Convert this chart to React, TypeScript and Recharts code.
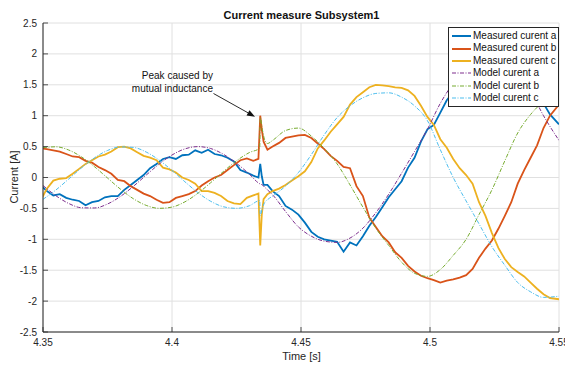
import React from 'react';
import { LineChart, Line, XAxis, YAxis, CartesianGrid, Legend } from 'recharts';

const FONT = '"Liberation Sans", Arial, Helvetica, sans-serif';
const AXIS = '#262626';

const xTicks = [4.35, 4.4, 4.45, 4.5, 4.55];
const xTickLabels = ['4.35', '4.4', '4.45', '4.5', '4.55'];
const yTicks = [-2.5, -2, -1.5, -1, -0.5, 0, 0.5, 1, 1.5, 2, 2.5];
const yTickLabels = ['-2.5', '-2', '-1.5', '-1', '-0.5', '0', '0.5', '1', '1.5', '2', '2.5'];

const seriesNames = [
  'Measured curent a',
  'Measured curent b',
  'Measured curent c',
  'Model curent a',
  'Model curent b',
  'Model curent c',
];
const seriesColors = ['#0072BD', '#D95319', '#EDB120', '#7E2F8E', '#77AC30', '#4DBEEE'];

const measuredTime = [
  4.349, 4.3515, 4.354, 4.3565, 4.359, 4.3615, 4.364, 4.3665, 4.369, 4.3715,
  4.374, 4.3765, 4.379, 4.3815, 4.384, 4.3865, 4.389, 4.3915, 4.394, 4.3965,
  4.399, 4.4015, 4.404, 4.4065, 4.409, 4.4115, 4.414, 4.4165, 4.419, 4.4215,
  4.424, 4.4265, 4.429, 4.4315,
  4.4335, 4.4342, 4.4348, 4.4355, 4.437,
  4.439, 4.4415, 4.444, 4.4465, 4.449, 4.4515, 4.454, 4.4565, 4.459, 4.4615,
  4.464, 4.4665, 4.469, 4.4715, 4.474, 4.4765, 4.479, 4.4815, 4.484, 4.4865,
  4.489, 4.4915, 4.494, 4.4965, 4.499, 4.5015, 4.504, 4.5065, 4.509, 4.5115,
  4.514, 4.5165, 4.519, 4.5215, 4.524, 4.5265, 4.529, 4.5315, 4.534, 4.5365,
  4.539, 4.5415, 4.544, 4.5465, 4.55,
];

const measuredA = [
  -0.12, -0.22, -0.29, -0.27, -0.33, -0.36, -0.38, -0.45, -0.40, -0.38,
  -0.32, -0.30, -0.30, -0.20, -0.12, -0.04, 0.04, 0.15, 0.22, 0.30,
  0.33, 0.30, 0.36, 0.37, 0.44, 0.40, 0.45, 0.38, 0.36, 0.32,
  0.26, 0.12, 0.08, 0.03,
  0.0, 0.22, 0.02, -0.12, -0.12,
  -0.22, -0.30, -0.46, -0.52, -0.60, -0.73, -0.88, -0.96, -1.0, -1.02,
  -1.04, -1.2, -1.05, -1.1, -0.95, -0.78, -0.64, -0.48, -0.32, -0.19,
  -0.06, 0.16, 0.32, 0.58, 0.78, 0.85, 1.05, 1.25, 1.38, 1.47,
  1.55, 1.6, 1.63, 1.65, 1.66, 1.64, 1.6, 1.55, 1.48, 1.4,
  1.33, 1.25, 1.2, 1.02, 0.86,
];

const measuredB = [
  0.47, 0.46, 0.44, 0.42, 0.38, 0.34, 0.33, 0.27, 0.24, 0.17,
  0.12, 0.06, -0.04, -0.06, -0.14, -0.20, -0.26, -0.30, -0.36, -0.41,
  -0.40, -0.33, -0.30, -0.27, -0.22, -0.13, -0.06, 0.0, 0.04, 0.12,
  0.20, 0.28, 0.31, 0.27,
  0.30, 1.0, 0.78, 0.58, 0.45,
  0.50, 0.56, 0.64, 0.66, 0.68, 0.69, 0.64, 0.55, 0.46, 0.35,
  0.27, 0.17, 0.15, -0.14, -0.30, -0.65, -0.80, -0.95, -1.05, -1.21,
  -1.30, -1.43, -1.52, -1.59, -1.63, -1.66, -1.70, -1.67, -1.65, -1.62,
  -1.58, -1.48, -1.30, -1.15, -1.02, -0.83, -0.62, -0.40, -0.10, 0.12,
  0.32, 0.52, 0.80, 1.0, 1.18,
];

const measuredC = [
  -0.38, -0.18, -0.05, -0.02, -0.01, 0.06, 0.14, 0.22, 0.28, 0.34,
  0.37, 0.42, 0.49, 0.50, 0.47, 0.41, 0.35, 0.32, 0.28, 0.16,
  0.13, 0.08, 0.0, -0.04, -0.10, -0.22, -0.22, -0.25, -0.30, -0.38,
  -0.42, -0.43, -0.33, -0.29,
  -0.26, -1.10, -0.6, -0.35, -0.27,
  -0.22, -0.18, -0.12, -0.05, 0.02, 0.10, 0.25, 0.47, 0.60, 0.74,
  0.86, 0.98, 1.18, 1.30, 1.38, 1.46, 1.50, 1.49, 1.48, 1.46,
  1.45, 1.41, 1.32, 1.16, 0.98, 0.85, 0.62, 0.48, 0.30, 0.15,
  0.04, -0.10, -0.40, -0.62, -0.90, -1.14, -1.32, -1.45, -1.53, -1.60,
  -1.70, -1.80, -1.89, -1.95, -1.97,
];

const modelTime = [
  4.35, 4.355, 4.36, 4.365, 4.37, 4.375, 4.38, 4.385, 4.39, 4.395,
  4.4, 4.405, 4.41, 4.415, 4.42, 4.425, 4.43, 4.434,
  4.4342, 4.435, 4.436, 4.437, 4.439,
  4.444, 4.449, 4.454, 4.459, 4.464, 4.469, 4.474, 4.479, 4.484, 4.489,
  4.494, 4.499, 4.504, 4.509, 4.514, 4.519, 4.524, 4.529, 4.534, 4.539,
  4.544, 4.55,
];

const modelA = [
  -0.130, -0.295, -0.421, -0.490, -0.493, -0.429, -0.307, -0.144, 0.039, 0.216,
  0.364, 0.463, 0.500, 0.469, 0.374, 0.229, 0.054, -0.101,
  -0.105, -0.12, -0.16, -0.2, -0.28,
  -0.55, -0.8, -0.95, -1.03, -1.05, -0.98, -0.82, -0.57, -0.27, 0.07,
  0.42, 0.78, 1.2, 1.52, 1.72, 1.86, 1.9, 1.82, 1.65, 1.39,
  1.0, 0.6,
];

const modelB = [
  0.483, 0.497, 0.444, 0.331, 0.173, -0.008, -0.188, -0.343, -0.451, -0.499,
  -0.479, -0.394, -0.256, -0.084, 0.100, 0.270, 0.404, 0.474,
  0.97, 0.78, 0.6, 0.55, 0.6,
  0.76, 0.8, 0.67, 0.47, 0.22, -0.12, -0.48, -0.82, -1.1, -1.37,
  -1.55, -1.6, -1.49, -1.26, -1.0, -0.6, -0.2, 0.27, 0.72, 1.02,
  1.23, 1.4,
];

const modelC = [
  -0.353, -0.202, -0.023, 0.159, 0.320, 0.437, 0.495, 0.487, 0.412, 0.282,
  0.114, -0.069, -0.244, -0.385, -0.474, -0.499, -0.457, -0.374,
  -0.62, -0.5, -0.4, -0.36, -0.3,
  -0.14, 0.08, 0.37, 0.69, 0.97, 1.16, 1.29, 1.36, 1.37, 1.3,
  1.16, 0.92, 0.45, 0.0, -0.38, -0.75, -1.12, -1.42, -1.7, -1.85,
  -1.94, -1.92,
];

const toPoints = (ts: number[], vs: number[]) => ts.map((t, i) => ({ t, v: vs[i] }));

const series = [
  { data: toPoints(measuredTime, measuredA), model: false },
  { data: toPoints(measuredTime, measuredB), model: false },
  { data: toPoints(measuredTime, measuredC), model: false },
  { data: toPoints(modelTime, modelA), model: true },
  { data: toPoints(modelTime, modelB), model: true },
  { data: toPoints(modelTime, modelC), model: true },
];

const DASH = '4 1.5 1 1.5';

const XTick = (props: any) => {
  const { x, y, payload } = props;
  const i = xTicks.indexOf(payload.value);
  const label = i >= 0 ? xTickLabels[i] : String(payload.value);
  return (
    <g>
      <line x1={x} x2={x} y1={y} y2={y - 5} stroke={AXIS} strokeWidth={0.8} />
      <text x={x} y={y + 13.5} textAnchor="middle" fontSize={10} fill={AXIS} fontFamily={FONT}>
        {label}
      </text>
    </g>
  );
};

const YTick = (props: any) => {
  const { x, y, payload } = props;
  const i = yTicks.indexOf(payload.value);
  const label = i >= 0 ? yTickLabels[i] : String(payload.value);
  return (
    <g>
      <line x1={x} x2={x + 5} y1={y} y2={y} stroke={AXIS} strokeWidth={0.8} />
      <text x={x - 6} y={y + 3.5} textAnchor="end" fontSize={10} fill={AXIS} fontFamily={FONT}>
        {label}
      </text>
    </g>
  );
};

const renderLegend = () => (
  <div
    style={{
      border: `1px solid ${AXIS}`,
      background: '#fff',
      width: 109,
      height: 76,
      paddingTop: 2,
      boxSizing: 'content-box',
      fontFamily: FONT,
      fontSize: 10,
      color: '#111',
      lineHeight: '12.4px',
    }}
  >
    {seriesNames.map((n, i) => (
      <div key={n} style={{ display: 'flex', alignItems: 'center', height: 12.4, whiteSpace: 'nowrap' }}>
        <svg width={23} height={8} style={{ flex: 'none' }}>
          <line
            x1={3}
            x2={22}
            y1={4}
            y2={4}
            stroke={seriesColors[i]}
            strokeWidth={i < 3 ? 2 : 1.1}
            strokeDasharray={i < 3 ? undefined : DASH}
          />
        </svg>
        <span style={{ marginLeft: 1 }}>{n}</span>
      </div>
    ))}
  </div>
);

const YLabel = () => (
  <text
    x={14}
    y={177}
    transform="rotate(-90 14 177)"
    textAnchor="middle"
    dominantBaseline="central"
    fontSize={11}
    fill={AXIS}
    fontFamily={FONT}
  >
    Current [A]
  </text>
);

const XLabel = () => (
  <text x={301.5} y={359.5} textAnchor="middle" fontSize={11} fill={AXIS} fontFamily={FONT}>
    Time [s]
  </text>
);

export default function App() {
  return (
    <div style={{ position: 'absolute', left: 0, top: 0, width: 565, height: 367, background: '#fff' }}>
      <LineChart width={565} height={367} margin={{ top: 23, right: 6, bottom: 0, left: 0 }}>
        <CartesianGrid stroke="#e0e0e0" strokeWidth={1} />
        <XAxis
          dataKey="t"
          type="number"
          domain={[4.35, 4.55]}
          ticks={xTicks}
          interval={0}
          allowDataOverflow
          height={35}
          tickSize={0}
          tickMargin={0}
          tick={<XTick />}
          axisLine={{ stroke: AXIS, strokeWidth: 1 }}
          label={<XLabel />}
        />
        <YAxis
          type="number"
          domain={[-2.5, 2.5]}
          ticks={yTicks}
          interval={0}
          allowDataOverflow
          width={43}
          tickSize={0}
          tickMargin={0}
          tick={<YTick />}
          axisLine={{ stroke: AXIS, strokeWidth: 1 }}
          label={<YLabel />}
        />
        {series.map((s, i) => (
          <Line
            key={seriesNames[i]}
            name={seriesNames[i]}
            data={s.data}
            dataKey="v"
            type={s.model ? 'monotone' : 'linear'}
            stroke={seriesColors[i]}
            strokeWidth={s.model ? 1 : 1.8}
            strokeDasharray={s.model ? DASH : undefined}
            dot={false}
            activeDot={false}
            isAnimationActive={false}
          />
        ))}
        <Legend
          layout="horizontal"
          align="center"
          verticalAlign="middle"
          content={renderLegend}
          wrapperStyle={{ left: 448, top: 27, width: 111, height: 79 }}
        />
      </LineChart>
      <svg
        width={565}
        height={367}
        style={{ position: 'absolute', left: 0, top: 0, pointerEvents: 'none' }}
      >
        <text x={301.5} y={19} textAnchor="middle" fontSize={11} fontWeight="bold" fill="#111" fontFamily={FONT}>
          Current measure Subsystem1
        </text>
        <text x={213} y={79} textAnchor="end" fontSize={10} fill="#111" fontFamily={FONT}>
          Peak caused by
        </text>
        <text x={213} y={92} textAnchor="end" fontSize={10} fill="#111" fontFamily={FONT}>
          mutual inductance
        </text>
        <line x1={213.5} y1={93.5} x2={248} y2={112.8} stroke="#111" strokeWidth={0.9} />
        <polygon points="255,116.7 246.5,115.4 249.5,110.2" fill="#111" />
      </svg>
    </div>
  );
}
